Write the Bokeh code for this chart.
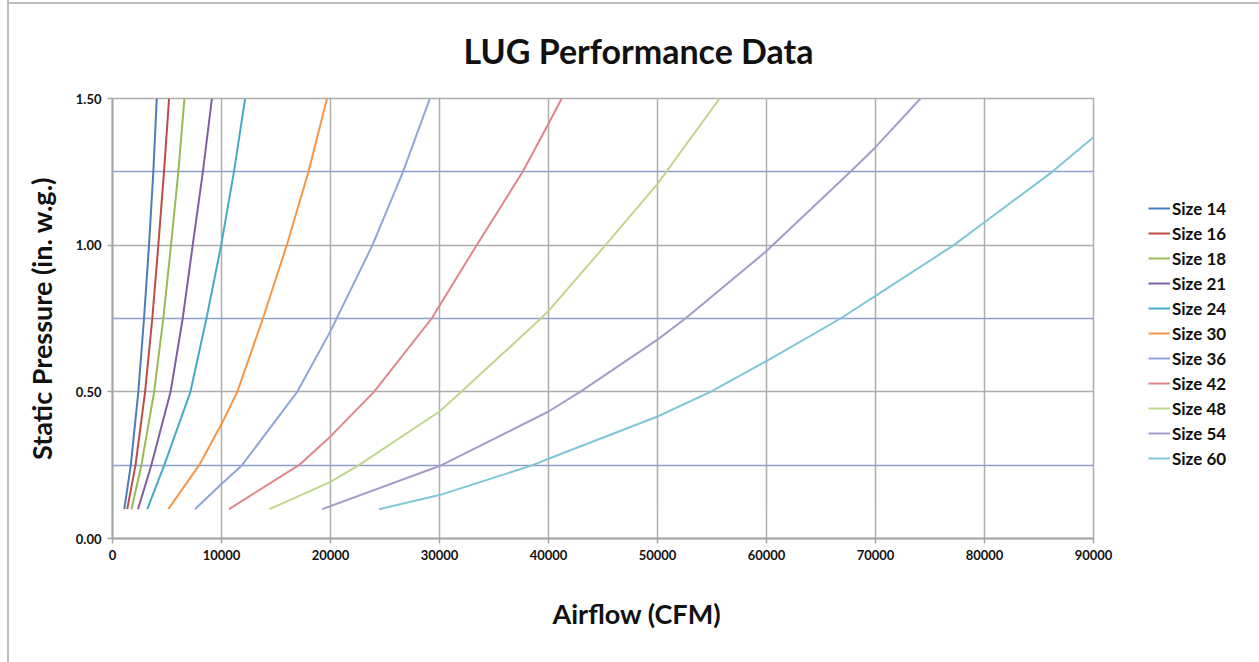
from bokeh.plotting import figure
from bokeh.models import (Legend, LegendItem, FixedTicker, NumeralTickFormatter,
                          Title, Range1d)
from bokeh.embed import file_html
from bokeh.resources import INLINE

# ---------------- data ----------------
series_names = ["Size 14", "Size 16", "Size 18", "Size 21", "Size 24", "Size 30",
                "Size 36", "Size 42", "Size 48", "Size 54", "Size 60"]
series_colors = ["#4A7EBB", "#BE4B48", "#98B954", "#7D60A0", "#46AAC5", "#F79646",
                 "#8EA6D8", "#E0868A", "#C0D68F", "#A99BC9", "#7FC6D8"]

airflow_14 = [1080, 1680, 2370, 2890, 3350, 3745, 4060]
sp_14 = [0.10, 0.25, 0.50, 0.75, 1.00, 1.25, 1.50]
airflow_16 = [1350, 2110, 2990, 3650, 4205, 4725, 5190]
sp_16 = [0.10, 0.25, 0.50, 0.75, 1.00, 1.25, 1.50]
airflow_18 = [1740, 2650, 3820, 4660, 5370, 6040, 6600]
sp_18 = [0.10, 0.25, 0.50, 0.75, 1.00, 1.25, 1.50]
airflow_21 = [2340, 3560, 5330, 6440, 7360, 8290, 9120]
sp_21 = [0.10, 0.25, 0.50, 0.75, 1.00, 1.25, 1.50]
airflow_24 = [3190, 4750, 7150, 8620, 9970, 11140, 12170]
sp_24 = [0.10, 0.25, 0.50, 0.75, 1.00, 1.25, 1.50]
airflow_30 = [5120, 7950, 10000, 11450, 13800, 15990, 17980, 19680]
sp_30 = [0.10, 0.25, 0.39, 0.50, 0.75, 1.00, 1.25, 1.50]
airflow_36 = [7560, 10000, 11880, 16950, 20000, 23850, 26650, 29120]
sp_36 = [0.10, 0.186, 0.25, 0.50, 0.707, 1.00, 1.25, 1.50]
airflow_42 = [10690, 17100, 20000, 23990, 29280, 33410, 37630, 40000, 41210]
sp_42 = [0.10, 0.25, 0.348, 0.50, 0.75, 1.00, 1.25, 1.414, 1.50]
airflow_48 = [14400, 20000, 22600, 30000, 32000, 39300, 40000, 45230, 50000, 55700]
sp_48 = [0.10, 0.193, 0.25, 0.433, 0.50, 0.75, 0.776, 1.00, 1.209, 1.50]
airflow_54 = [19230, 30000, 40000, 42900, 50000, 52560, 60000, 67700, 70000, 74130]
sp_54 = [0.10, 0.247, 0.433, 0.50, 0.678, 0.75, 0.980, 1.25, 1.334, 1.50]
airflow_60 = [24450, 30000, 38550, 40000, 50000, 54860, 60000, 66790, 70000,
              77180, 80000, 86210, 90000]
sp_60 = [0.10, 0.148, 0.25, 0.272, 0.416, 0.50, 0.605, 0.75, 0.827, 1.00,
         1.078, 1.25, 1.368]

airflows = [airflow_14, airflow_16, airflow_18, airflow_21, airflow_24, airflow_30,
            airflow_36, airflow_42, airflow_48, airflow_54, airflow_60]
pressures = [sp_14, sp_16, sp_18, sp_21, sp_24, sp_30,
             sp_36, sp_42, sp_48, sp_54, sp_60]

x_ticks = [0, 10000, 20000, 30000, 40000, 50000, 60000, 70000, 80000, 90000]
y_ticks = [0.0, 0.5, 1.0, 1.5]
y_minor = [0.25, 0.75, 1.25]

title_text = "LUG Performance Data"
x_label = "Airflow (CFM)"
y_label = "Static Pressure (in. w.g.)"

FONT = "Lato"
GRID = "#ADADAD"
BLUE_GRID = "#8EA0CC"

# ---------------- figure ----------------
p = figure(frame_width=981, frame_height=440,
           min_border_left=103, min_border_right=164,
           min_border_top=99, min_border_bottom=120,
           x_range=Range1d(0, 90000), y_range=Range1d(0, 1.5),
           output_backend="svg", toolbar_location=None)

p.styles = {"border-left": "2px solid #BDBDBD",
            "margin-top": "-1px", "margin-left": "7px",
            "background": "linear-gradient(#BDBDBD, #BDBDBD) 0 3px / 100% 2px no-repeat, #FFFFFF"}

p.title.text = title_text
p.title.text_font = FONT
p.title.text_font_size = "34px"
p.title.text_font_style = "bold"
p.title.text_color = "#111111"
p.title.align = "left"
p.title.offset = 351
p.title.standoff = 55

p.add_layout(Title(text=x_label, text_font=FONT, text_font_size="27px",
                   text_font_style="bold", text_color="#111111",
                   align="left", offset=440, standoff=65), "below")

# axes
p.xaxis.ticker = FixedTicker(ticks=x_ticks)
p.xaxis.formatter = NumeralTickFormatter(format="0")
p.yaxis.ticker = FixedTicker(ticks=y_ticks, minor_ticks=y_minor)
p.yaxis.formatter = NumeralTickFormatter(format="0.00")

for ax in (p.xaxis[0], p.yaxis[0]):
    ax.major_label_text_font = FONT
    ax.major_label_text_font_size = "13px"
    ax.major_label_text_font_style = "bold"
    ax.major_label_text_color = "#111111"
    ax.axis_line_color = "#A6A6A6"
    ax.axis_line_width = 2
    ax.major_tick_line_color = "#A6A6A6"
    ax.major_tick_line_width = 1.5
    ax.major_tick_out = 5
    ax.major_tick_in = 0
    ax.minor_tick_line_color = None
    ax.major_label_standoff = 6

p.yaxis.axis_label = y_label
p.yaxis.axis_label_text_font = FONT
p.yaxis.axis_label_text_font_size = "27px"
p.yaxis.axis_label_text_font_style = "bold"
p.yaxis.axis_label_text_color = "#111111"
p.yaxis.axis_label_standoff = 15

# grids
p.xgrid.ticker = FixedTicker(ticks=x_ticks)
p.xgrid.grid_line_color = GRID
p.xgrid.grid_line_width = 1.5
p.ygrid.ticker = FixedTicker(ticks=y_ticks, minor_ticks=y_minor)
p.ygrid.grid_line_color = GRID
p.ygrid.grid_line_width = 1.5
p.ygrid.minor_grid_line_color = BLUE_GRID
p.ygrid.minor_grid_line_width = 1.5

p.outline_line_color = GRID
p.outline_line_width = 1.5
p.background_fill_color = "white"
p.border_fill_color = None

# series
items = []
for name, col, xs, ys in zip(series_names, series_colors, airflows, pressures):
    r = p.line(xs, ys, line_color=col, line_width=2, line_join="round")
    items.append(LegendItem(label=name, renderers=[r]))

legend = Legend(items=items, location=(55, 69),
                glyph_width=22, glyph_height=22, label_height=22,
                spacing=3, label_standoff=2, padding=0, margin=0,
                label_text_font=FONT, label_text_font_size="17px",
                label_text_font_style="bold", label_text_color="#111111",
                border_line_color=None, background_fill_alpha=0)
p.add_layout(legend, "right")

open("out.html", "w").write(file_html(p, INLINE))
